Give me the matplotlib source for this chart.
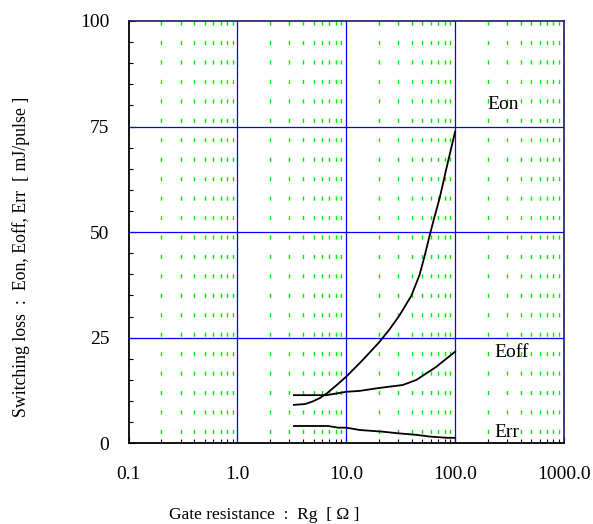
import numpy as np
import matplotlib
matplotlib.use("Agg")
import matplotlib.pyplot as plt
from matplotlib.ticker import FixedLocator, NullFormatter

# ---- data ----
eon_rg = [3.3, 4.2, 4.9, 5.7, 6.6, 8.0, 10.0, 14.0, 20.0, 25.0, 31.0, 39.5, 47.0, 52.0, 59.0, 64.0, 72.0, 83.0, 100.0]
eon = [9.1, 9.3, 9.9, 10.7, 11.8, 13.6, 15.8, 19.6, 23.9, 27.0, 30.4, 34.9, 39.8, 44.0, 49.7, 53.2, 58.0, 65.0, 73.8]

eoff_rg = [3.3, 6.6, 10.0, 13.2, 20.0, 33.0, 44.0, 67.0, 100.0]
eoff = [11.4, 11.4, 12.2, 12.4, 13.1, 13.8, 15.0, 18.1, 21.7]

err_rg = [3.3, 6.8, 8.4, 10.0, 13.3, 21.7, 29.0, 44.0, 58.5, 84.0, 100.0]
err = [4.1, 4.1, 3.7, 3.7, 3.15, 2.75, 2.4, 2.0, 1.6, 1.3, 1.3]

x_major = [0.1, 1.0, 10.0, 100.0, 1000.0]
x_labels = ["0.1", "1.0", "10.0", "100.0", "1000.0"]
y_major = [0, 25, 50, 75, 100]
y_labels = ["0", "25", "50", "75", "100"]
y_minor = list(range(0, 101, 5))
x_minor = [m * 10.0 ** d for d in range(-1, 3) for m in range(2, 10)]

series_labels = ["Eon", "Eoff", "Err"]
label_pos = [(198, 79.2), (229, 20.5), (229, 1.6)]

plt.rcParams['font.family'] = ['Liberation Serif', 'DejaVu Serif']

fig = plt.figure(figsize=(5.93, 5.24), dpi=100)
ax = fig.add_axes([0.217, 0.154, 0.734, 0.806])
ax.set_xscale('log')
ax.set_xlim(0.1, 1000)
ax.set_ylim(0, 100)

# minor green dashed grid, drawn from top to bottom
ax.vlines(x_minor, 100, 0, colors='#00ee00', linewidth=1.0,
          linestyles=[(0, (3, 11))], zorder=1)
# blue major grid
for xv in x_major[1:-1]:
    ax.axvline(xv, color='#0000ff', linewidth=0.9, zorder=2)
for yv in y_major[1:-1]:
    ax.axhline(yv, color='#0000ff', linewidth=0.9, zorder=2)

ax.plot(eon_rg, eon, color='black', linewidth=1.3, zorder=3)
ax.plot(eoff_rg, eoff, color='black', linewidth=1.3, zorder=3)
ax.plot(err_rg, err, color='black', linewidth=1.3, zorder=3)

for name, (px, py) in zip(series_labels, label_pos):
    ax.text(px, py, name, fontsize=14, ha='left', va='baseline', zorder=4)

ax.xaxis.set_major_locator(FixedLocator(x_major))
ax.set_xticklabels(x_labels)
ax.xaxis.set_minor_locator(FixedLocator(x_minor))
ax.xaxis.set_minor_formatter(NullFormatter())
ax.yaxis.set_major_locator(FixedLocator(y_major))
ax.set_yticklabels(y_labels)
ax.yaxis.set_minor_locator(FixedLocator(y_minor))

ax.tick_params(axis='both', which='both', direction='in', top=False, right=False,
               labelsize=14, width=0.8)
ax.tick_params(axis='x', which='major', length=4, pad=16)
ax.tick_params(axis='x', which='minor', length=3)
ax.tick_params(axis='y', which='major', length=4, pad=14)
ax.tick_params(axis='y', which='minor', length=3)

for s in ['left', 'bottom']:
    ax.spines[s].set_color('black')
    ax.spines[s].set_linewidth(1.3)
for s in ['top', 'right']:
    ax.spines[s].set_color('#1a1a66')
    ax.spines[s].set_linewidth(1.2)

ax.set_xlabel("Gate resistance  :  Rg  [ Ω ]", fontsize=12.5)
ax.set_ylabel("Switching loss  :  Eon, Eoff, Err  [ mJ/pulse ]", fontsize=12.8)
ax.xaxis.set_label_coords(0.311, -0.151)
ax.yaxis.set_label_coords(-0.227, 0.441)

fig.savefig("out.png", dpi=100)
